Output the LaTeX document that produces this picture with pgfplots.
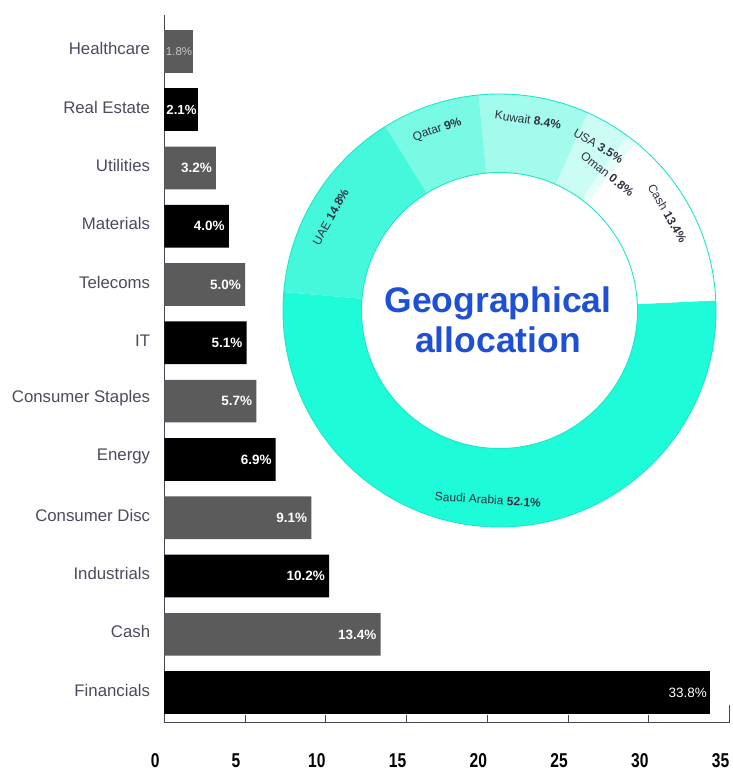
\documentclass[border=0pt]{standalone}
\usepackage{fontspec}
\setmainfont{Liberation Sans}
\newfontfamily\condfont[FakeStretch=0.78]{Liberation Sans}
\usepackage{pgfplots}
\pgfplotsset{compat=1.18}
\definecolor{bargray}{HTML}{5B5B5B}
\definecolor{axiscol}{HTML}{45455A}
\definecolor{labgray}{HTML}{4B4B5E}
\definecolor{donuttxt}{HTML}{30303F}
\definecolor{geoblue}{HTML}{1E50D6}
\definecolor{saudi}{HTML}{1DFBD8}
\definecolor{uae}{HTML}{45F8DC}
\definecolor{qatar}{HTML}{78FAE4}
\definecolor{kuwait}{HTML}{A2FBEB}
\definecolor{usa}{HTML}{CBFDF4}
\definecolor{oman}{HTML}{E6FEFA}
\definecolor{cashc}{HTML}{FFFFFF}
\definecolor{rim}{HTML}{1EE6CD}
\begin{document}
\begin{tikzpicture}
\path[use as bounding box] (0,0) rectangle (732pt,771pt);
\begin{axis}[
  at={(164.3pt,49pt)}, anchor=south west,
  scale only axis, width=565.2pt, height=707pt,
  xmin=0, xmax=35, ymin=-0.503, ymax=11.623,
  axis lines*=left,
  axis line style={draw=axiscol, line width=0.8pt},
  xtick={0,5,...,30}, xticklabels={0,5,10,15,20,25,30},
  extra x ticks={35}, extra x tick labels={35},
  extra x tick style={grid=none, major tick length=17pt},
  tick align=inside, major tick length=7pt,
  x tick style={draw=axiscol, line width=0.8pt},
  xticklabel style={anchor=base, yshift=-45.5pt, xshift=-9pt, font=\condfont\bfseries\fontsize{20}{20}\selectfont, text=black},
  ytick={0,...,11},
  yticklabels={Financials, Cash, Industrials, Consumer Disc, Energy, Consumer Staples, IT, Telecoms, Materials, Utilities, Real Estate, Healthcare},
  y tick style={draw=none},
  yticklabel style={anchor=east, inner sep=0pt, xshift=-14pt, yshift=2.5pt, font=\fontsize{16.8}{18}\selectfont, text=labgray},
  clip=false,
  point meta=x,
  every node near coord/.append style={anchor=east, inner sep=0pt, xshift=-4pt},
]
% gray bars, bold labels
\addplot[xbar, bar width=42.7pt, bar shift=0pt, fill=bargray, draw=none,
  nodes near coords={\pgfmathprintnumber[fixed,fixed zerofill,precision=1,assume math mode=true]{\pgfplotspointmeta}\%},
  nodes near coords style={font=\bfseries\fontsize{13.5}{14}\selectfont, text=white}]
  coordinates {(13.4,1) (9.1,3) (5.7,5) (5.0,7) (3.2,9)};
% black bars, bold labels
\addplot[xbar, bar width=42.7pt, bar shift=0pt, fill=black, draw=none,
  nodes near coords={\pgfmathprintnumber[fixed,fixed zerofill,precision=1,assume math mode=true]{\pgfplotspointmeta}\%},
  nodes near coords style={font=\bfseries\fontsize{13.5}{14}\selectfont, text=white}]
  coordinates {(10.2,2) (6.9,4) (5.1,6) (4.0,8)};
% Real Estate
\addplot[xbar, bar width=42.7pt, bar shift=0pt, fill=black, draw=none,
  nodes near coords={\pgfmathprintnumber[fixed,fixed zerofill,precision=1,assume math mode=true]{\pgfplotspointmeta}\%},
  nodes near coords style={font=\bfseries\fontsize{13.2}{14}\selectfont, text=white, xshift=2.5pt}]
  coordinates {(2.1,10)};
% Financials
\addplot[xbar, bar width=42.7pt, bar shift=0pt, fill=black, draw=none,
  nodes near coords={\pgfmathprintnumber[fixed,fixed zerofill,precision=1,assume math mode=true]{\pgfplotspointmeta}\%},
  nodes near coords style={font=\fontsize{13.5}{14}\selectfont, text=white, xshift=1pt}]
  coordinates {(33.8,0)};
% Healthcare
\addplot[xbar, bar width=42.7pt, bar shift=0pt, fill=bargray, draw=none,
  nodes near coords={\pgfmathprintnumber[fixed,fixed zerofill,precision=1,assume math mode=true]{\pgfplotspointmeta}\%},
  nodes near coords style={font=\fontsize{11.5}{13}\selectfont, text=black!22, xshift=3pt}]
  coordinates {(1.8,11)};
\end{axis}
% Donut: geographical allocation
\begin{scope}[shift={(499.5pt,460.5pt)}]
  \def\a{175.1}
  \foreach \v/\col in {52.1/saudi, 13.4/cashc, 0.8/oman, 3.4/usa, 8.2/kuwait, 7.3/qatar, 14.8/uae} {
    \pgfmathsetmacro\b{\a+3.6*\v}
    \fill[\col] (\a:216.5pt) arc[start angle=\a, end angle=\b, radius=216.5pt]
      -- (\b:138pt) arc[start angle=\b, end angle=\a, radius=138pt] -- cycle;
    \global\let\a\b
  }
  \draw[rim, line width=0.9pt] (0,0) circle[radius=216.5pt];
  \draw[rim, line width=0.9pt] (0,0) circle[radius=138pt];
  \begin{scope}[every node/.style={font=\fontsize{12}{13}\selectfont, text=donuttxt, inner sep=0pt}]
    \node[rotate=-3.5] at (266.5:189.5pt) {Saudi Arabia \textbf{52.1\%}};
    \node[rotate=61] at (151:193pt) {UAE \textbf{14.8\%}};
    \node[rotate=19] at (109:191pt) {Qatar \textbf{9\%}};
    \node[rotate=-8.5] at (81.5:193pt) {Kuwait \textbf{8.4\%}};
    \node[rotate=-31] at (59:192pt) {USA \textbf{3.5\%}};
    \node[rotate=-38.3] at (51.7:174pt) {Oman \textbf{0.8\%}};
    \node[rotate=-60] at (30:194pt) {Cash \textbf{13.4\%}};
  \end{scope}
  \node[font=\bfseries\fontsize{35.5}{40}\selectfont, text=geoblue, align=center] at (-1.5pt,-9.5pt) {Geographical\\allocation};
\end{scope}
\end{tikzpicture}
\end{document}
